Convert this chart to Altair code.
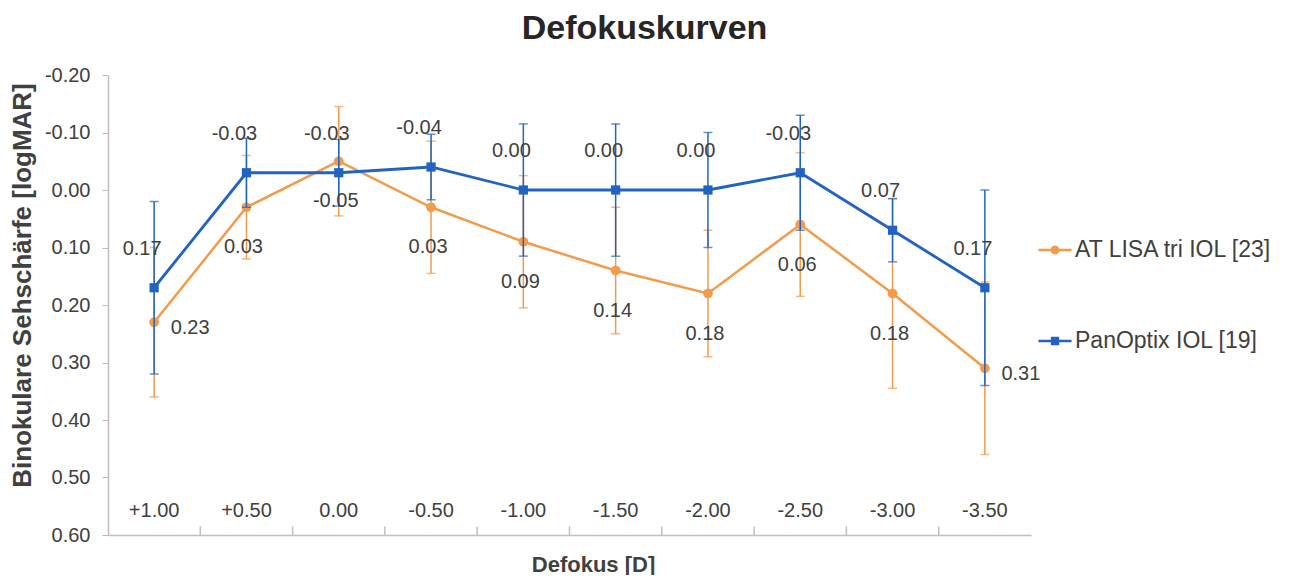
import altair as alt
import pandas as pd

categories = ["+1.00", "+0.50", "0.00", "-0.50", "-1.00", "-1.50", "-2.00", "-2.50", "-3.00", "-3.50"]
series_names = ["AT LISA tri IOL [23]", "PanOptix IOL [19]"]
lisa_mean = [0.23, 0.03, -0.05, 0.03, 0.09, 0.14, 0.18, 0.06, 0.18, 0.31]
lisa_sd = [0.13, 0.09, 0.095, 0.115, 0.115, 0.11, 0.11, 0.125, 0.165, 0.15]
pan_mean = [0.17, -0.03, -0.03, -0.04, 0.00, 0.00, 0.00, -0.03, 0.07, 0.17]
pan_sd = [0.15, 0.06, 0.058, 0.057, 0.115, 0.115, 0.10, 0.10, 0.055, 0.17]
y_ticks = [-0.2, -0.1, 0.0, 0.1, 0.2, 0.3, 0.4, 0.5, 0.6]

ORANGE = "#F39B4B"
BLUE = "#2263C2"
TXT = "#404040"
FONT = "Liberation Sans"


def fmt(v):
    s = f"{v:.2f}"
    return "0.00" if s == "-0.00" else s


rows = []
for name, means, sds in [(series_names[0], lisa_mean, lisa_sd), (series_names[1], pan_mean, pan_sd)]:
    for i, (c, m, s) in enumerate(zip(categories, means, sds)):
        rows.append(dict(cat=c, idx=i, series=name, mean=m, lo=m - s, hi=m + s, label=fmt(m)))
df = pd.DataFrame(rows)
tick_df = pd.DataFrame({"cat": categories[1:]})

x_scale = alt.Scale(type="band", domain=categories, paddingInner=0, paddingOuter=0)
y_scale = alt.Scale(domain=[-0.2, 0.6], reverse=True, nice=False, zero=False)

x_enc = alt.X(
    "cat:N", scale=x_scale, sort=categories, bandPosition=0.5,
    axis=alt.Axis(
        title="Defokus [D]", labelAngle=0, ticks=False, tickSize=0, labelPadding=-25,
        labelAlign="center", labelBaseline="middle",
        labelFontSize=20, labelColor=TXT, labelFont=FONT, domainColor="#bfbfbf", domainWidth=1.5,
        grid=False, titleFontSize=22, titleFont=FONT, titleColor=TXT, titleFontWeight="bold",
        titleX=485, titleY=29, titleBaseline="middle", titleAlign="center",
    ),
)
y_enc = alt.Y(
    "mean:Q", scale=y_scale,
    axis=alt.Axis(
        title="Binokulare Sehschärfe [logMAR]", values=y_ticks,
        labelExpr="replace(format(datum.value, '.2f'), '\u2212', '-')",
        labelFontSize=20, labelColor=TXT, labelFont=FONT, labelPadding=12,
        tickColor="#bfbfbf", tickSize=6, domainColor="#bfbfbf", domainWidth=1.5,
        gridColor="#dcdcdc", gridWidth=1.2,
        titleFontSize=26, titleFont=FONT, titleColor=TXT, titleFontWeight="bold",
        titleX=-86, titleY=210, titleAngle=-90, titleAlign="center", titleBaseline="middle",
    ),
)

base = alt.Chart(df)
color_scale = alt.Scale(domain=series_names, range=[ORANGE, BLUE])

layers = []
for name, col, shape, size, lw in [
    (series_names[0], ORANGE, "circle", 95, 2.5),
    (series_names[1], BLUE, "square", 85, 2.8),
]:
    sub = base.transform_filter(alt.datum.series == name)
    err = sub.mark_rule(color=col, strokeWidth=1.5).encode(
        x=alt.X("cat:N", scale=x_scale, sort=categories, bandPosition=0.5),
        y=alt.Y("lo:Q", scale=y_scale), y2="hi:Q")
    cap_lo = sub.mark_tick(color=col, size=9, thickness=1.5, orient="horizontal").encode(
        x=alt.X("cat:N", scale=x_scale, sort=categories, bandPosition=0.5),
        y=alt.Y("lo:Q", scale=y_scale))
    cap_hi = sub.mark_tick(color=col, size=9, thickness=1.5, orient="horizontal").encode(
        x=alt.X("cat:N", scale=x_scale, sort=categories, bandPosition=0.5),
        y=alt.Y("hi:Q", scale=y_scale))
    line = sub.mark_line(color=col, strokeWidth=lw).encode(x=x_enc, y=y_enc, order="idx:Q")
    pts = sub.mark_point(color=col, filled=True, opacity=1, shape=shape, size=size).encode(
        x=alt.X("cat:N", scale=x_scale, sort=categories, bandPosition=0.5),
        y=alt.Y("mean:Q", scale=y_scale))
    layers += [err, cap_lo, cap_hi, line, pts]

text_common = dict(fontSize=20, font=FONT, color=TXT, baseline="middle", align="center")
xy_text = dict(
    x=alt.X("cat:N", scale=x_scale, sort=categories, bandPosition=0.5),
    y=alt.Y("mean:Q", scale=y_scale),
    text="label:N",
)
blue_lbl = base.transform_filter(alt.datum.series == series_names[1]).mark_text(
    dx=-12, dy=-39, **text_common).encode(**xy_text)
orange_mid = base.transform_filter(
    (alt.datum.series == series_names[0]) & (alt.datum.idx > 0) & (alt.datum.idx < 9)
).mark_text(dx=-3, dy=40, **text_common).encode(**xy_text)
orange_end = base.transform_filter(
    (alt.datum.series == series_names[0]) & ((alt.datum.idx == 0) | (alt.datum.idx == 9))
).mark_text(dx=36, dy=6, **text_common).encode(**xy_text)

bar_tick_rules = alt.Chart(tick_df).mark_rule(color="#bfbfbf", strokeWidth=1.5).encode(
    x=alt.X("cat:N", scale=x_scale, sort=categories, bandPosition=0),
    y=alt.datum(0.6), y2=alt.datum(0.585))

circ_path = "M-1,-0.08L1,-0.08L1,0.08L-1,0.08Z M0.27,0A0.27,0.27,0,1,1,-0.27,0A0.27,0.27,0,1,1,0.27,0Z"
sq_path = "M-1,-0.08L1,-0.08L1,0.08L-1,0.08Z M-0.25,-0.25L0.25,-0.25L0.25,0.25L-0.25,0.25Z"

legend_props = dict(orient="none", legendX=930, legendY=158, title=None,
                    labelFontSize=23, labelFont=FONT, labelColor=TXT, labelLimit=400,
                    symbolSize=1100, symbolOpacity=1, symbolStrokeWidth=0,
                    rowPadding=62, labelOffset=3, symbolOffset=0)

legend_layer = base.mark_point(filled=True, opacity=0).encode(
    x=alt.X("cat:N", scale=x_scale, sort=categories, bandPosition=0.5),
    y=alt.Y("mean:Q", scale=y_scale),
    color=alt.Color("series:N", scale=color_scale, sort=series_names, title=None,
                    legend=alt.Legend(**legend_props)),
    shape=alt.Shape("series:N", sort=series_names, title=None,
                    scale=alt.Scale(domain=series_names, range=[circ_path, sq_path]),
                    legend=alt.Legend(**legend_props)),
)

chart = alt.layer(bar_tick_rules, *layers, blue_lbl, orange_mid, orange_end, legend_layer).properties(
    width=923, height=460,
    title=alt.TitleParams("Defokuskurven", fontSize=34, font=FONT, fontWeight="bold", color="#262626",
                          anchor="middle", dx=75, offset=19),
    autosize=alt.AutoSizeParams(type="none"),
    padding={"left": 100, "top": 67, "right": 258, "bottom": 40},
    background="white",
).configure_view(stroke=None)

chart.save("out.html", embed_options={"renderer": "svg", "actions": False})
